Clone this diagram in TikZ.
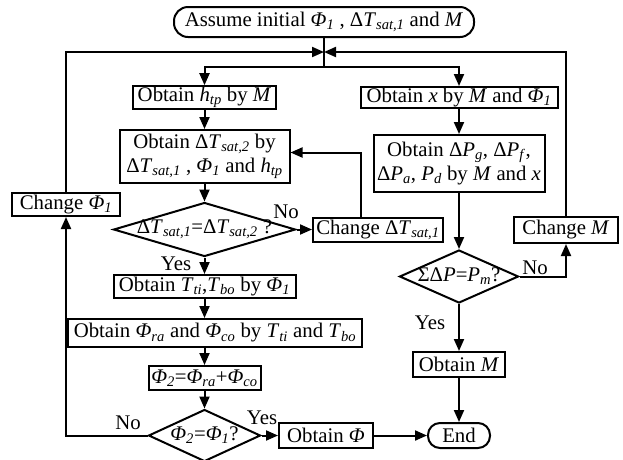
\documentclass[tikz,border=0pt]{standalone}
\usepackage{fontspec}
\setmainfont{Liberation Serif}
\usetikzlibrary{arrows.meta, shapes.geometric, calc}

\newcommand{\vsb}[2]{\textit{#1}\textsubscript{\textit{#2}}}
\newcommand{\dTs}[1]{Δ\vsb{T}{sat,#1}}
\newcommand{\fPhi}[1]{\vsb{Φ}{#1}}

\begin{document}
\begin{tikzpicture}[x=1pt, y=-1pt,
    font=\fontsize{20.8}{23.5}\selectfont,
    blk/.style={rectangle, draw, line width=2pt, inner sep=1pt,
                minimum height=23pt, align=center},
    term/.style={blk, rounded corners=12pt},
    dia/.style={diamond, draw, line width=2pt, inner sep=0pt},
    arr/.style={-{Triangle[length=12pt,width=10pt]}, line width=2pt},
    ln/.style={line width=2pt},
    lbl/.style={inner sep=0pt},
  ]
  \useasboundingbox (0,0) rectangle (623,459);

  \node[term, rounded corners=14pt, minimum width=300pt, minimum height=30pt] (start) at (324,22)
    {Assume initial \fPhi{1} , \dTs{1} and \textit{M}};
  \coordinate (jtop) at (324,52);
  \coordinate (jsplit) at (324,67);

  % left branch
  \node[blk, minimum width=143pt, minimum height=21pt] (htp) at (204.5,97.5)
    {Obtain \vsb{h}{tp} by \textit{M}};
  \node[blk, minimum width=170pt, minimum height=53pt] (dts) at (204.5,156.5)
    {Obtain \dTs{2} by\\ \dTs{1} , \fPhi{1} and \vsb{h}{tp}};
  \node[dia, minimum width=182pt, minimum height=54pt] (dec1) at (204.5,229.5)
    {\makebox[0pt]{\dTs{1}=\dTs{2} ?}};
  \node[blk, minimum width=130pt, minimum height=24pt] (chdt) at (378,229.5)
    {Change \dTs{1}};
  \node[blk, minimum width=182pt] (tb) at (204.5,286.5)
    {Obtain \vsb{T}{ti},\vsb{T}{bo} by \fPhi{1}};
  \node[blk, minimum width=294pt, minimum height=28pt] (phira) at (215,333)
    {Obtain \fPhi{ra} and \fPhi{co} by \vsb{T}{ti} and \vsb{T}{bo}};
  \node[blk, minimum width=112pt, minimum height=24pt] (phisum) at (204.5,378)
    {\fPhi{2}=\fPhi{ra}+\fPhi{co}};
  \node[dia, minimum width=112pt, minimum height=52pt] (dec3) at (204.5,435.5)
    {\makebox[0pt]{\fPhi{2}=\fPhi{1}?}};
  \node[blk, minimum width=94pt, minimum height=25pt] (obphi) at (326,435.5)
    {Obtain \textit{Φ}};
  \node[term, minimum width=62pt, minimum height=25pt] (fin) at (459,435.5) {End};
  \node[blk, minimum width=108pt] (chphi) at (66,204.5) {Change \fPhi{1}};

  % right branch
  \node[blk, minimum width=197pt, minimum height=21pt] (xq) at (459,97.5)
    {Obtain \textit{x} by \textit{M} and \fPhi{1}};
  \node[blk, minimum width=171pt, minimum height=57pt] (dp) at (459,163.5)
    {Obtain Δ\vsb{P}{g}, Δ\vsb{P}{f},\\ Δ\vsb{P}{a}, \vsb{P}{d} by \textit{M} and \textit{x}};
  \node[dia, minimum width=119pt, minimum height=53pt] (dec2) at (459,276.5)
    {\makebox[0pt]{ΣΔ\textit{P}=\vsb{P}{m}?}};
  \node[blk, minimum width=104pt, minimum height=26pt] (chm) at (566,230)
    {Change \textit{M}};
  \node[blk, minimum width=92pt, minimum height=25pt] (obm) at (459,364.5)
    {Obtain \textit{M}};

  \draw[ln] (start) -- (jsplit);
  \draw[arr] (jsplit) -| (htp);
  \draw[arr] (jsplit) -| (xq);
  \draw[arr] (chphi) |- (jtop);
  \draw[arr] (chm) |- (jtop);

  \draw[arr] (htp) -- (dts);
  \draw[arr] (dts) -- (dec1);
  \draw[arr] (dec1) -- (chdt);
  \draw[arr] ([xshift=-17pt]chdt.north) |- ([yshift=4pt]dts.east);
  \draw[arr] (dec1) -- (tb);
  \draw[arr] (tb) -- (tb |- phira.north);
  \draw[arr] (phisum |- phira.south) -- (phisum);
  \draw[arr] (phisum) -- (dec3);
  \draw[arr] (dec3) -- (obphi);
  \draw[arr] (obphi) -- (fin);
  \draw[arr] (dec3) -| (chphi);

  \draw[arr] (xq) -- (dp);
  \draw[arr] (dp) -- (dec2);
  \draw[arr] (dec2) -- (obm);
  \draw[arr] (obm) -- (fin);
  \draw[arr] (dec2) -| (chm);

  % Labels
  \node[lbl] (no1) at (286,212) {No};
  \node[lbl] (yes1) at (176,264) {Yes};
  \node[lbl] (no2) at (535,268) {No};
  \node[lbl] (yes2) at (430,323) {Yes};
  \node[lbl] (no3) at (128,423) {No};
  \node[lbl] (yes3) at (262,418) {Yes};
\end{tikzpicture}
\end{document}
